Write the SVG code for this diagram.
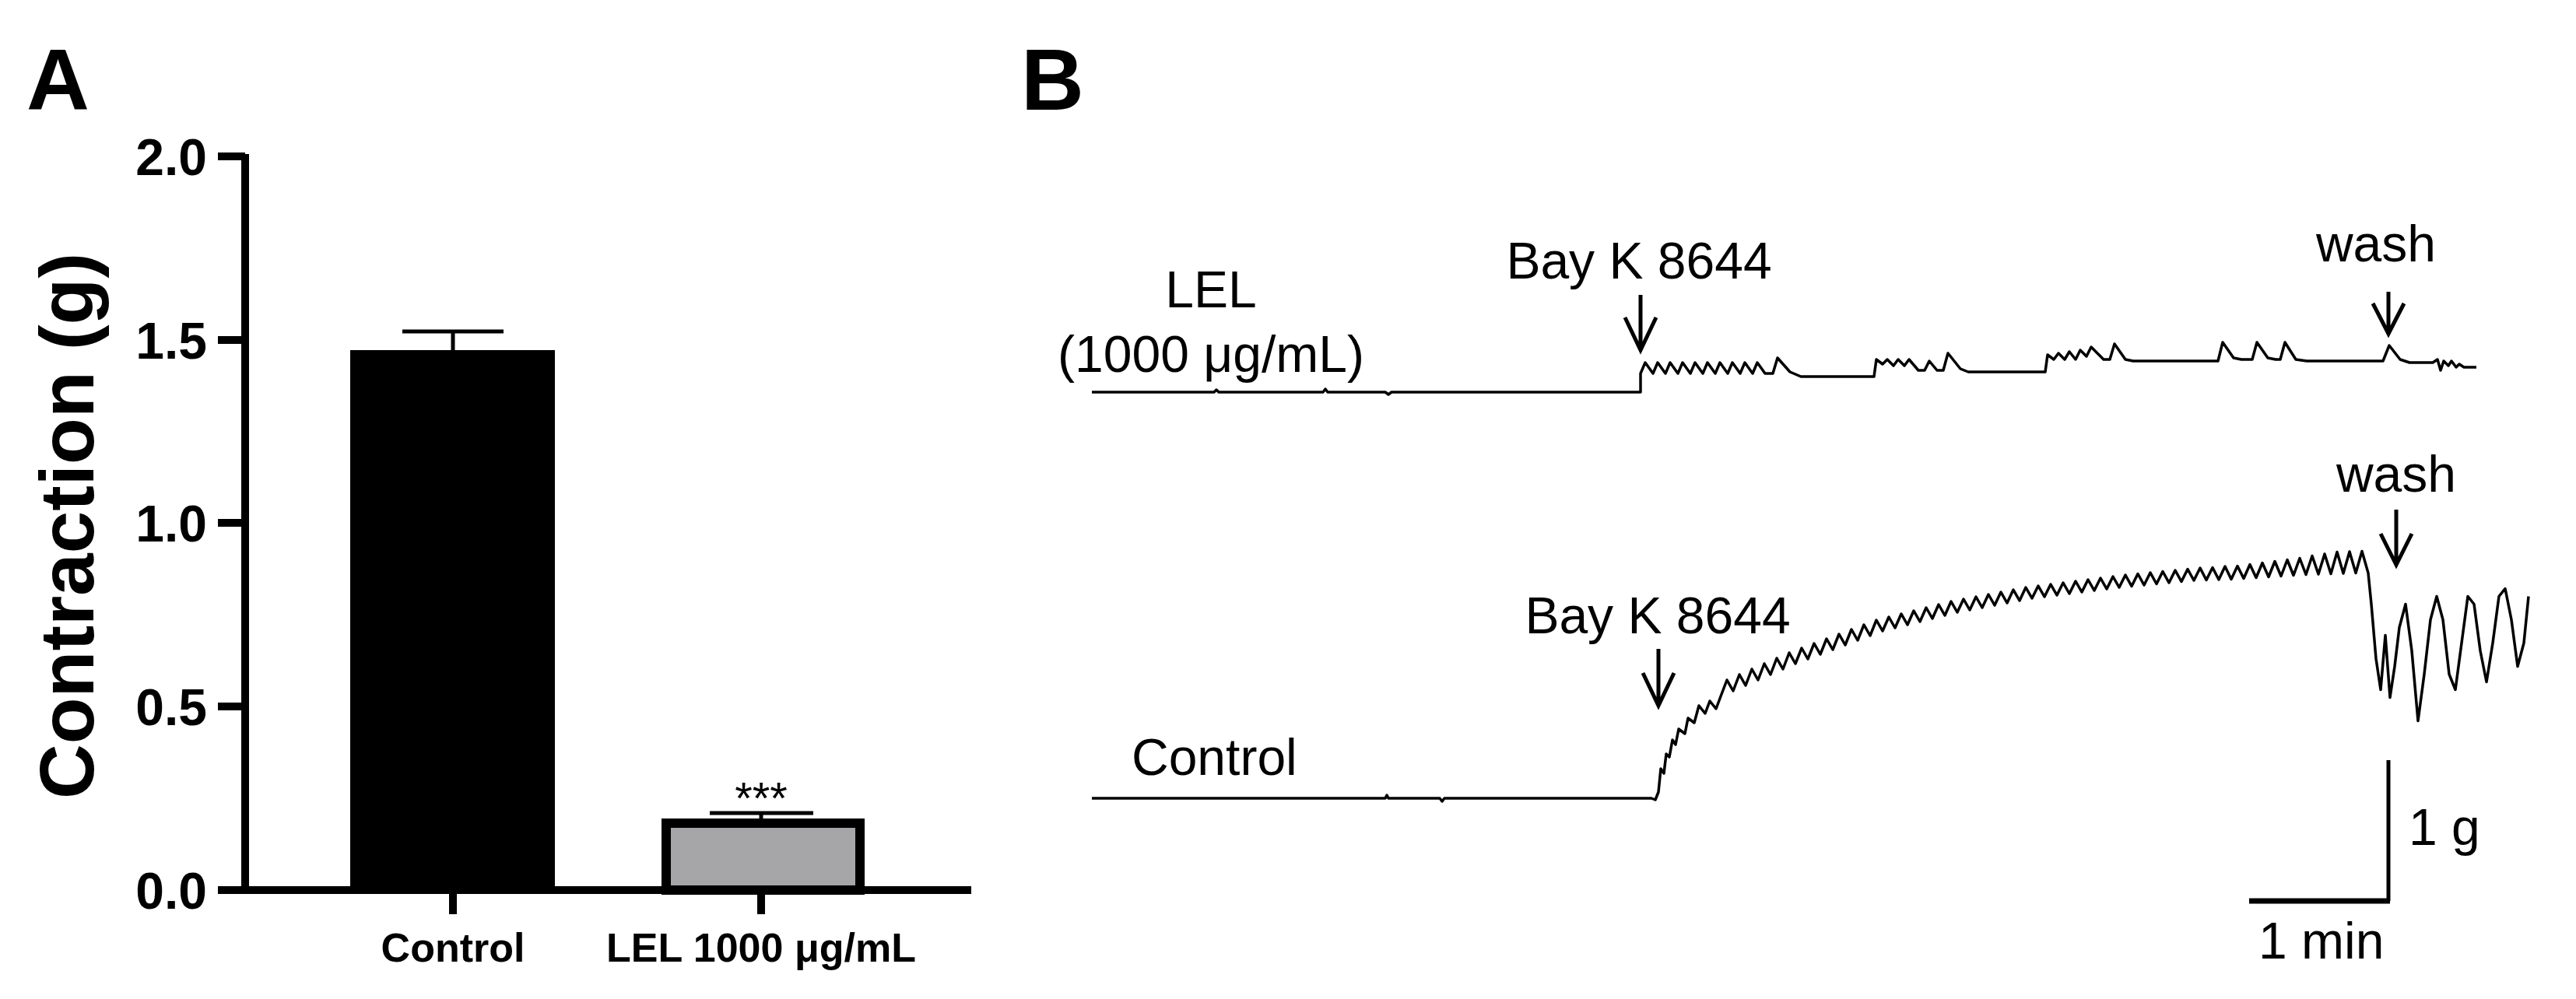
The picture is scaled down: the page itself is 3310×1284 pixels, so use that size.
<svg xmlns="http://www.w3.org/2000/svg" width="3310" height="1284" viewBox="0 0 3310 1284">
<style>
.bold{font-family:"Liberation Sans",Arial,sans-serif;font-weight:bold;fill:#000}
.reg{font-family:"Liberation Sans",Arial,sans-serif;fill:#000}
.ax{stroke:#000;stroke-width:10;fill:none}
.tr{stroke:#000;stroke-width:3.5;fill:none;stroke-linejoin:round}
.arr{stroke:#000;stroke-width:5;fill:none}
</style>
<rect width="3310" height="1284" fill="#fff"/>
<g id="panelA">
<text class="bold" x="34" y="141" font-size="112">A</text>
<g id="axes">
<path class="ax" d="M315,198 V1144 H1248"/>
<path class="ax" d="M280,201 H315 M280,437 H315 M280,672 H315 M280,908 H315 M280,1144 H315 M582,1144 V1175 M978,1144 V1175"/>
<g class="bold" font-size="66" text-anchor="end">
<text x="266" y="225">2.0</text><text x="266" y="461">1.5</text><text x="266" y="696">1.0</text><text x="266" y="932">0.5</text><text x="266" y="1168">0.0</text>
</g>
<text class="bold" font-size="98" text-anchor="middle" transform="translate(120,676) rotate(-90)">Contraction (g)</text>
</g>
<g id="bar-control"><rect x="450" y="450" width="263" height="694" fill="#000"/><path class="arr" d="M582,450 V426 M517,426 H647"/></g>
<g id="bar-lel"><rect x="856" y="1058" width="249" height="86" fill="#a6a6a8" stroke="#000" stroke-width="12"/><path class="arr" d="M978,1052 V1045 M912,1045 H1045"/>
<text class="reg" x="978" y="1046" text-anchor="middle" font-size="58">***</text></g>
<text class="bold" font-size="52" x="582" y="1236" text-anchor="middle">Control</text>
<text class="bold" font-size="52" x="978" y="1236" text-anchor="middle">LEL 1000 μg/mL</text>
</g>
<g id="panelB">
<text class="bold" x="1312" y="141" font-size="112">B</text>
<g id="labels" class="reg" font-size="66">
<text x="1556" y="395" text-anchor="middle">LEL</text>
<text x="1556" y="478" text-anchor="middle">(1000 μg/mL)</text>
<text x="2106" y="358" text-anchor="middle">Bay K 8644</text>
<text x="3053" y="336" text-anchor="middle">wash</text>
<text x="2130" y="814" text-anchor="middle">Bay K 8644</text>
<text x="3079" y="632" text-anchor="middle">wash</text>
<text x="1454" y="996">Control</text>
<text x="3095" y="1086">1 g</text>
<text x="2902" y="1232">1 min</text>
</g>
<g id="arrows" class="arr">
<path d="M2108,379 V450 M2088,408 L2108,450 L2128,408"/>
<path d="M3069,375 V429 M3049,390 L3069,429 L3089,390"/>
<path d="M2131,834 V907 M2111,865 L2131,907 L2151,865"/>
<path d="M3079,655 V726 M3059,686 L3079,726 L3099,686"/>
</g>
<g id="traces" class="tr">
<path d="M1403,504 H1560 l3,-3 l3,3 H1700 l3,-4 l3,4 H1780 l4,3 l4,-3 H2108 V480 l6,-14 l10,14 l6,-14 l10,14 l6,-14 l10,14 l6,-14 l10,14 l6,-14 l10,14 l6,-14 l10,14 l6,-14 l10,14 l6,-14 l10,14 l6,-14 l10,14 l6,-14 l10,14 l10,0 l6,-20 l16,18 l14,6 l20,0 H2408 l3,-22 l8,6 l6,-6 l8,8 l6,-8 l8,8 l6,-8 l12,14 l8,0 l6,-12 l10,12 l8,0 l6,-22 l16,20 l10,4 H2628 l3,-22 l8,6 l6,-8 l8,8 l6,-10 l8,10 l6,-12 l8,8 l6,-12 l16,16 l8,0 l6,-20 l14,20 l10,2 H2850 l6,-24 l14,20 l10,2 l14,0 l6,-22 l14,20 l10,2 l6,0 l6,-22 l14,22 l14,2 H3062 l8,-20 l14,18 l12,4 h30 l6,-4 l4,14 l4,-12 l6,6 l4,-6 l6,8 l4,-4 l6,4 h16"/>
<path d="M1403,1026 H1780 l2,-4 l2,4 H1850 l3,4 l3,-4 H2122 l5,2 l4,-10 l3,-30 l4,6 l3,-25 l4,4 l4,-22 l4,6 l4,-20 l8,6 l4,-20 l8,6 l6,-22 l8,10 l6,-16 l8,10 l6,-16
l8,-21 l8,14 l8,-21 l8,14 l8,-21 l8,14 l8,-21 l8,14 l8,-21 l8,14 l8,-21 l8,14
l8,-20 l8,14 l8,-20 l8,14 l8,-20 l8,14 l8,-20 l8,14 l8,-20 l8,14 l8,-20 l8,14 l8,-20 l8,14
l8,-18 l8,14 l8,-18 l8,14 l8,-18 l8,14 l8,-18 l8,14 l8,-18 l8,14 l8,-18 l8,14
l8,-17 l8,14 l8,-17 l8,14 l8,-17 l8,14 l8,-17 l8,14 l8,-17 l8,14 l8,-17 l8,14
l8,-16 l8,14 l8,-16 l8,14 l8,-16 l8,14 l8,-16 l8,14 l8,-16 l8,14 l8,-16 l8,14 l8,-16 l8,14
l8,-16 l8,14.5 l8,-16 l8,14.5 l8,-16 l8,14.5 l8,-16 l8,14.5 l8,-16 l8,14.5 l8,-16 l8,14.5
l8,-16 l8,15.5 l8,-16 l8,15.5 l8,-17 l8,16.5
l8,-17 l8,16 l8,-18 l8,17 l8,-19 l8,18 l8,-20 l8,19 l8,-21 l8,20 l8,-22 l8,21
l8,-24 l8,23.5 l8,-26 l8,25.5 l8,-28 l8,27.5 l8,-28 l8,27.5 l8,-28 l8,28
l4,40 l6,70 l6,40 l6,-70 l6,80 l6,-40 l6,-50 l8,-30 l8,60 l8,90 l8,-60 l8,-70 l8,-30 l8,30 l8,70 l8,20 l8,-60 l8,-60 l8,10 l8,60 l8,40 l8,-50 l8,-60 l8,-10 l8,40 l8,60 l8,-30 l6,-60"/>
</g>
<g id="scalebar"><path class="arr" d="M3069,977 V1158"/><path d="M2890,1158 H3071" stroke="#000" stroke-width="7"/></g>
</g>
</svg>
